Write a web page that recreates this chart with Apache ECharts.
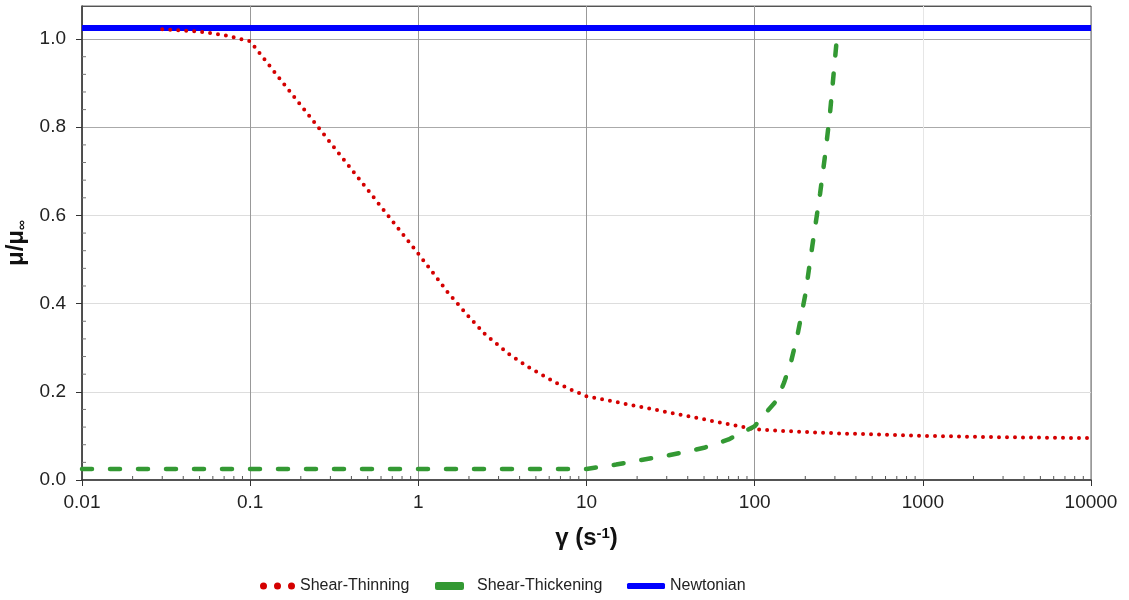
<!DOCTYPE html>
<html>
<head>
<meta charset="utf-8">
<title>Viscosity vs shear rate</title>
<script src="https://cdn.jsdelivr.net/npm/echarts@6/dist/echarts.min.js"></script>
<style>
  html, body { margin: 0; padding: 0; background: #fff; }
  #chart { width: 1129px; height: 600px; }
</style>
</head>
<body>
<div id="chart"></div>
<script>
// data (x = shear rate, y = mu / mu_inf)
var thinningX = [0.03, 0.05, 0.07, 0.1, 1, 1.25, 1.5, 2, 2.5, 3.5, 4.6, 6.7, 8.2, 10, 100, 150, 300, 1000, 3000, 10000];
var thinningY = [1.022, 1.017, 1.009, 0.995, 0.513, 0.465, 0.425, 0.37, 0.33, 0.284, 0.254, 0.219, 0.204, 0.19, 0.115, 0.111, 0.106, 0.1, 0.097, 0.095];

var thickeningX = [0.01, 10, 15, 20, 30, 50, 70, 100, 120, 135, 150, 165, 180, 200, 220, 245, 263, 281, 308];
var thickeningY = [0.025, 0.025, 0.035, 0.044, 0.055, 0.073, 0.092, 0.122, 0.158, 0.18, 0.222, 0.27, 0.33, 0.42, 0.53, 0.65, 0.74, 0.835, 1.0];

var newtonianX = [0.01, 10000];
var newtonianY = [1.025, 1.025];

// tick positions
var xDecades = [0.01, 0.1, 1, 10, 100, 1000];
var xMinorSteps = [2, 3, 4, 5, 6, 7, 8, 9];
var yMajors = [0, 0.2, 0.4, 0.6, 0.8];
var yMinorSteps = [0.04, 0.08, 0.12, 0.16];

var FONT = 'Liberation Sans, Arial, sans-serif';

function pairs(xs, ys) {
  return xs.map(function (x, i) { return [x, ys[i]]; });
}

var xMinorTicks = [];
xDecades.forEach(function (d) {
  xMinorSteps.forEach(function (m) { xMinorTicks.push([+(d * m).toPrecision(3), 0]); });
});
var yMinorTicks = [];
yMajors.forEach(function (b) {
  yMinorSteps.forEach(function (s) { yMinorTicks.push([0.01, +(b + s).toFixed(2)]); });
});

var chart = echarts.init(document.getElementById('chart'));

var option = {
  backgroundColor: '#fff',
  animation: false,
  grid: {
    left: 82, right: 38, top: 6, bottom: 120,
    outerBoundsMode: 'none',
    containLabel: false,
    show: true, borderColor: '#666', borderWidth: 1
  },
  xAxis: {
    type: 'log',
    logBase: 10,
    min: 0.01,
    max: 10000,
    name: '{g|γ (s}{sup|-1}{g|)}',
    nameLocation: 'middle',
    nameGap: 46,
    nameTextStyle: {
      rich: {
        g: { fontFamily: FONT, fontSize: 24, fontWeight: 'bold', color: '#111' },
        sup: { fontFamily: FONT, fontSize: 15, fontWeight: 'bold', color: '#111', verticalAlign: 'top' }
      }
    },
    axisLine: { show: true, onZero: false, lineStyle: { color: '#333', width: 1.5 } },
    axisTick: { show: true, inside: false, length: 6, lineStyle: { color: '#333' } },
    axisLabel: {
      margin: 13,
      fontFamily: FONT, fontSize: 19, color: '#222',
      formatter: function (v) { return String(v); }
    },
    splitLine: {
      show: true,
      lineStyle: { color: ['#999', '#999', '#999', '#999', '#999', '#e6e6e6', '#999'], width: 1 }
    }
  },
  yAxis: {
    type: 'value',
    min: 0,
    max: 1.075,
    interval: 0.2,
    name: '{a|μ/μ}{b|∞}',
    nameLocation: 'middle',
    nameGap: 52,
    nameTextStyle: {
      rich: {
        a: { fontFamily: FONT, fontSize: 24, fontWeight: 'bold', color: '#111' },
        b: { fontFamily: FONT, fontSize: 14, fontWeight: 'bold', color: '#111', verticalAlign: 'bottom' }
      }
    },
    axisLine: { show: true, onZero: false, lineStyle: { color: '#333', width: 1.5 } },
    axisTick: { show: true, inside: false, length: 6, lineStyle: { color: '#333' } },
    axisLabel: {
      margin: 16,
      fontFamily: FONT, fontSize: 19, color: '#222',
      showMaxLabel: false,
      formatter: function (v) { return v.toFixed(1); }
    },
    splitLine: {
      show: true,
      lineStyle: { color: ['#bbb', '#ddd', '#ddd', '#ddd', '#aaa', '#aaa', '#555'], width: 1 }
    }
  },
  legend: [
    {
      left: 255, top: 573,
      data: [{ name: 'Shear-Thinning', icon: 'path://M0,3.5a3.5,3.5 0 1,0 7,0a3.5,3.5 0 1,0 -7,0M14,3.5a3.5,3.5 0 1,0 7,0a3.5,3.5 0 1,0 -7,0M28,3.5a3.5,3.5 0 1,0 7,0a3.5,3.5 0 1,0 -7,0Z' }],
      itemWidth: 35, itemHeight: 7,
      itemStyle: { color: '#d40000', borderWidth: 0 },
      textStyle: { fontFamily: FONT, fontSize: 16, color: '#222' }
    },
    {
      left: 430, top: 573,
      data: [{ name: 'Shear-Thickening', icon: 'roundRect' }],
      itemWidth: 29, itemHeight: 8,
      itemStyle: { color: '#339933', borderWidth: 0 },
      textStyle: { fontFamily: FONT, fontSize: 16, color: '#222', padding: [0, 0, 0, 8] }
    },
    {
      left: 622, top: 573,
      data: [{ name: 'Newtonian', icon: 'roundRect' }],
      itemWidth: 38, itemHeight: 6,
      itemStyle: { color: '#0000ff', borderWidth: 0 },
      textStyle: { fontFamily: FONT, fontSize: 16, color: '#222' }
    }
  ],
  series: [
    {
      name: 'Newtonian',
      type: 'line',
      data: pairs(newtonianX, newtonianY),
      showSymbol: false, symbol: 'none',
      lineStyle: { color: '#0000ff', width: 6 },
      itemStyle: { color: '#0000ff' },
      z: 3
    },
    {
      name: 'Shear-Thinning',
      type: 'line',
      data: pairs(thinningX, thinningY),
      showSymbol: false, symbol: 'none',
      lineStyle: { color: '#d40000', width: 4, type: [0, 8], cap: 'round' },
      itemStyle: { color: '#d40000' },
      z: 4
    },
    {
      name: 'Shear-Thickening',
      type: 'line',
      data: pairs(thickeningX, thickeningY),
      showSymbol: false, symbol: 'none',
      lineStyle: { color: '#339933', width: 4.5, type: [10, 18], cap: 'round' },
      itemStyle: { color: '#339933' },
      z: 4
    },
    {
      // minor ticks on the log x axis (inside)
      type: 'custom',
      silent: true,
      clip: false,
      data: xMinorTicks,
      renderItem: function (params, api) {
        var p = api.coord([api.value(0), 0]);
        return {
          type: 'line',
          shape: { x1: p[0], y1: p[1], x2: p[0], y2: p[1] - 4 },
          style: { stroke: '#555', lineWidth: 1 }
        };
      },
      z: 5
    },
    {
      // minor ticks on the y axis (inside)
      type: 'custom',
      silent: true,
      clip: false,
      data: yMinorTicks,
      renderItem: function (params, api) {
        var p = api.coord([0.01, api.value(1)]);
        return {
          type: 'line',
          shape: { x1: p[0], y1: p[1], x2: p[0] + 4, y2: p[1] },
          style: { stroke: '#777', lineWidth: 1 }
        };
      },
      z: 5
    }
  ]
};

chart.setOption(option);
</script>
</body>
</html>
